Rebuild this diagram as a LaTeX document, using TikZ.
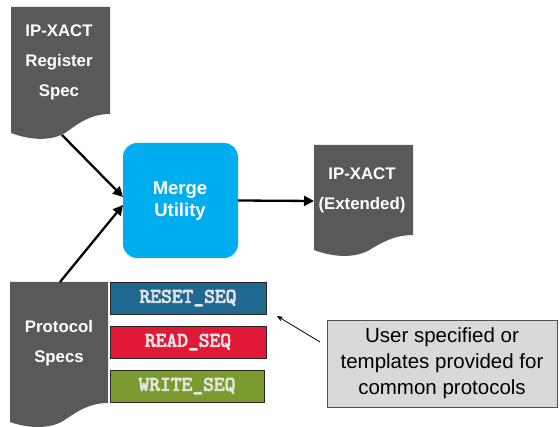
\documentclass[tikz,border=0pt]{standalone}
\usepackage{fontspec}
\setmainfont{Liberation Sans}
\newfontfamily\seqfont[FakeBold=4]{lmmono10-regular.otf}
\usetikzlibrary{arrows.meta}
\definecolor{docgray}{RGB}{89,89,89}
\definecolor{mergecyan}{RGB}{0,174,239}
\definecolor{resetblue}{RGB}{31,104,143}
\definecolor{readred}{RGB}{225,25,55}
\definecolor{writegreen}{RGB}{122,156,46}
\definecolor{seqtext}{RGB}{228,228,228}
\definecolor{calloutfill}{RGB}{217,217,217}
\definecolor{calloutline}{RGB}{80,80,80}
\tikzset{
  doclabel/.style={text=white, font=\bfseries\fontsize{16.8}{30}\selectfont, align=center, inner sep=0pt},
  seqbox/.style={draw=black!85, line width=0.8pt, minimum width=156pt, minimum height=32pt, inner sep=0pt, text=seqtext, font=\seqfont\fontsize{20.5}{22}\selectfont},
  flow/.style={line width=2.3pt, -{Triangle[length=10pt,width=10pt]}},
  pointer/.style={line width=0.8pt, -{Stealth[length=6pt,width=5pt]}}
}
\begin{document}
\begin{tikzpicture}[x=1pt,y=-1pt]
\useasboundingbox (0,0) rectangle (560,427);
% documents
\fill[docgray] (11,7) -- (110,7) -- (110,114) .. controls (92,114) and (80,122) .. (68,131) .. controls (56,140) and (35,142) .. (11,133) -- cycle;
\fill[docgray] (314,145) -- (413,145) -- (413,235) .. controls (395,235) and (383,242) .. (371,249) .. controls (359,257) and (338,259) .. (314,250) -- cycle;
\fill[docgray] (10,282) -- (108,282) -- (108,403) .. controls (90,403) and (78,411) .. (66,419) .. controls (54,428) and (33,430) .. (10,422) -- cycle;
\node[doclabel] (regspec) at (59,62) {IP-XACT\\Register\\Spec};
\node[doclabel] (extended) at (362,190) {IP-XACT\\(Extended)};
\node[doclabel] (protocol) at (59,343) {Protocol\\Specs};
\coordinate (regbottom) at (62,135);
\coordinate (prottop) at (60,282);
\coordinate (extleft) at (314,201);
% merge utility
\node[fill=mergecyan, rounded corners=14pt, minimum width=115pt, minimum height=115pt, inner sep=0pt] (merge) at (180.5,200.5) {};
\node[doclabel, font=\bfseries\fontsize{18.5}{22}\selectfont] (mergetext) at (180,201) {Merge\\Utility};
\coordinate (mergein1) at (123,197);
\coordinate (mergein2) at (123,205);
% sequence boxes
\node[seqbox, fill=resetblue] (reset) at (188,298) {RESET\_SEQ};
\node[seqbox, fill=readred] (read) at (188,342) {READ\_SEQ};
\node[seqbox, fill=writegreen, minimum width=154pt] (write) at (187,386) {WRITE\_SEQ};
% callout
\node[draw=calloutline, fill=calloutfill, line width=0.8pt, minimum width=230pt, minimum height=87pt, inner sep=0pt, align=center, font=\fontsize{20.5}{26}\selectfont] (callout) at (442,363.5) {User specified or\\templates provided for\\common protocols};
\coordinate (calloutstart) at (320,342);
\coordinate (callouttip) at (277,316);
% connectors
\draw[flow] (regbottom) -- (mergein1);
\draw[flow] (prottop) -- (mergein2);
\draw[flow] (merge.east) -- (extleft);
\draw[pointer] (calloutstart) -- (callouttip);
\end{tikzpicture}
\end{document}
